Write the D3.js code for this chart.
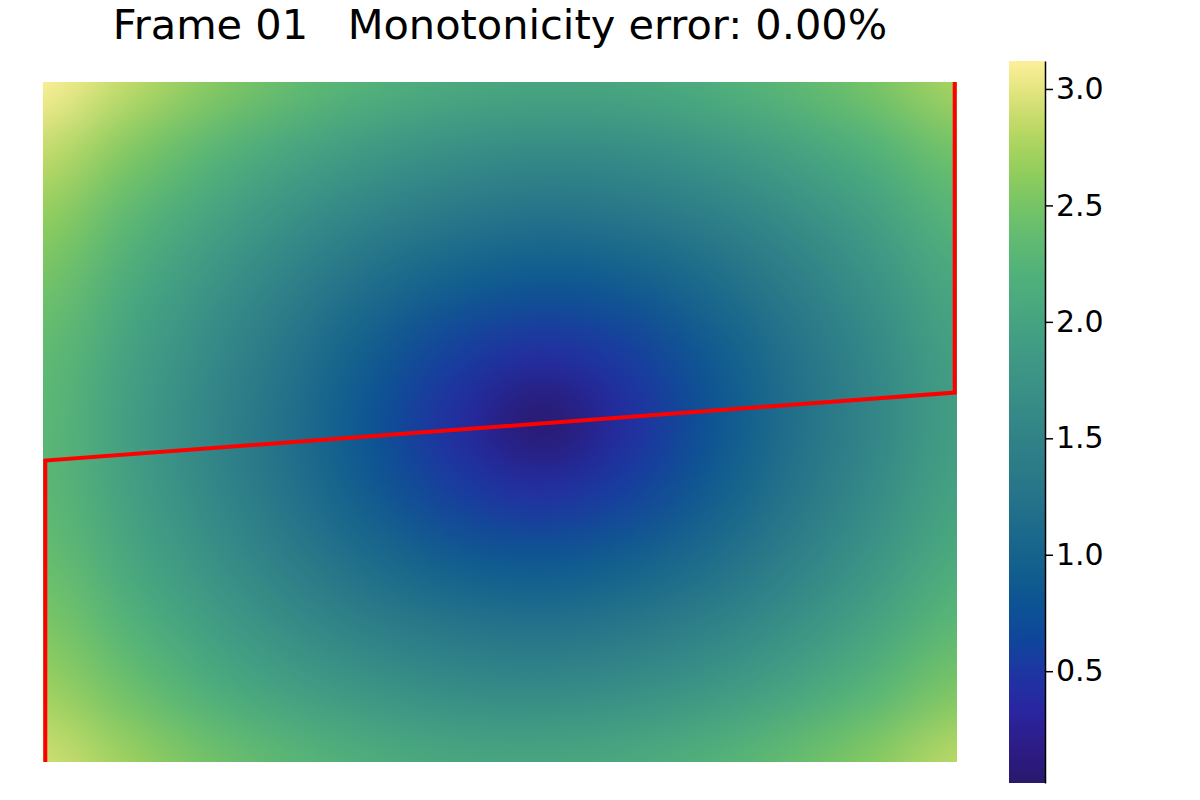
<!DOCTYPE html>
<html>
<head>
<meta charset="utf-8">
<script src="https://cdn.jsdelivr.net/npm/d3@7"></script>
<style>
	body { margin: 0; background: white; }
	svg { font-family: "DejaVu Sans", sans-serif; }
</style>
</head>
<body>
<div id="plot"></div>
<script>
const titleText = "Frame 01   Monotonicity error: 0.00%";

// cost values on a 12 x 11 grid of nodes,
// rows from top to bottom, columns from left to right, outer nodes on the frame edges
const cost = [
	[3.12, 2.86, 2.60, 2.38, 2.21, 2.09, 2.04, 2.06, 2.16, 2.31, 2.51, 2.76],
	[2.88, 2.57, 2.29, 2.03, 1.83, 1.69, 1.63, 1.66, 1.78, 1.97, 2.20, 2.48],
	[2.65, 2.32, 2.00, 1.71, 1.47, 1.30, 1.22, 1.27, 1.42, 1.65, 1.93, 2.25],
	[2.48, 2.12, 1.77, 1.44, 1.14, 0.92, 0.82, 0.89, 1.10, 1.39, 1.72, 2.07],
	[2.36, 1.98, 1.61, 1.24, 0.89, 0.57, 0.41, 0.55, 0.86, 1.21, 1.58, 1.95],
	[2.31, 1.93, 1.54, 1.16, 0.77, 0.39, 0.02, 0.39, 0.77, 1.16, 1.54, 1.93],
	[2.32, 1.95, 1.58, 1.21, 0.86, 0.55, 0.41, 0.57, 0.89, 1.24, 1.61, 1.98],
	[2.40, 2.06, 1.72, 1.39, 1.10, 0.89, 0.82, 0.92, 1.14, 1.44, 1.77, 2.12],
	[2.54, 2.23, 1.92, 1.65, 1.42, 1.27, 1.22, 1.30, 1.47, 1.71, 2.00, 2.31],
	[2.72, 2.45, 2.18, 1.96, 1.78, 1.66, 1.63, 1.69, 1.83, 2.03, 2.28, 2.55],
	[2.92, 2.70, 2.47, 2.29, 2.15, 2.06, 2.04, 2.09, 2.21, 2.38, 2.59, 2.84],
];

// grid size of the matrix the path walks through
const nCols = 200;
const nRows = 300;

// warping path (column, row), rows counted from the bottom
const pathCols = [0.5, 0.5, 199.5, 199.5];
const pathRows = [0, 133, 163, 300];

const colorbarTicks = [0.5, 1.0, 1.5, 2.0, 2.5, 3.0];

// haline-like colour map
const cmapStops = [
	[0.00, "rgb(42,24,108)"],
	[0.05, "rgb(45,28,135)"],
	[0.10, "rgb(42,37,160)"],
	[0.15, "rgb(30,52,162)"],
	[0.20, "rgb(15,70,155)"],
	[0.25, "rgb(12,84,147)"],
	[0.30, "rgb(18,96,141)"],
	[0.35, "rgb(28,106,139)"],
	[0.40, "rgb(38,116,137)"],
	[0.50, "rgb(52,135,135)"],
	[0.60, "rgb(64,155,132)"],
	[0.70, "rgb(80,176,123)"],
	[0.75, "rgb(95,186,114)"],
	[0.80, "rgb(118,196,102)"],
	[0.85, "rgb(148,206,92)"],
	[0.90, "rgb(182,215,98)"],
	[0.95, "rgb(220,226,122)"],
	[1.00, "rgb(253,239,154)"],
];

const W = 1200, H = 800;
const plot = { left: 43, right: 957, top: 82, bottom: 762 };
const bar = { left: 1009, right: 1045, top: 61, bottom: 783 };

const svg = d3
	.select("#plot")
	.append("svg")
	.attr("width", W)
	.attr("height", H);

const all = cost.flat();
const vmin = d3.min(all), vmax = d3.max(all);

const cmap = d3
	.scaleLinear()
	.domain(cmapStops.map((d) => d[0]))
	.range(cmapStops.map((d) => d[1]))
	.interpolate(d3.interpolateRgb)
	.clamp(true);
const color = (v) => cmap((v - vmin) / (vmax - vmin));

const x = d3.scaleLinear().domain([0, nCols]).range([plot.left, plot.right]);
const y = d3.scaleLinear().domain([0, nRows]).range([plot.bottom, plot.top]);

// heatmap: one pixel per node, then scaled up smoothly to the frame
const nx = cost[0].length, ny = cost.length;
const small = document.createElement("canvas");
small.width = nx;
small.height = ny;
const sctx = small.getContext("2d");
const img = sctx.createImageData(nx, ny);
cost.forEach((row, j) => {
	row.forEach((v, i) => {
		const c = d3.rgb(color(v));
		const k = (j * nx + i) * 4;
		img.data[k] = c.r;
		img.data[k + 1] = c.g;
		img.data[k + 2] = c.b;
		img.data[k + 3] = 255;
	});
});
sctx.putImageData(img, 0, 0);

const pw = plot.right - plot.left, ph = plot.bottom - plot.top;
const big = document.createElement("canvas");
big.width = pw;
big.height = ph;
const bctx = big.getContext("2d");
bctx.imageSmoothingEnabled = true;
bctx.imageSmoothingQuality = "high";
const cw = pw / (nx - 1), ch = ph / (ny - 1);
bctx.drawImage(small, -cw / 2, -ch / 2, nx * cw, ny * ch);

svg
	.append("image")
	.attr("x", plot.left)
	.attr("y", plot.top)
	.attr("width", pw)
	.attr("height", ph)
	.attr("preserveAspectRatio", "none")
	.attr("href", big.toDataURL());

// warping path
const line = d3
	.line()
	.x((d) => x(d[0]))
	.y((d) => y(d[1]));

svg
	.append("path")
	.datum(pathCols.map((c, i) => [c, pathRows[i]]))
	.attr("d", line)
	.attr("fill", "none")
	.attr("stroke", "#ff0000")
	.attr("stroke-width", 4)
	.attr("stroke-linejoin", "miter");

// title
svg
	.append("text")
	.attr("x", (plot.left + plot.right) / 2)
	.attr("y", 39)
	.attr("text-anchor", "middle")
	.style("font-size", "41.5px")
	.style("white-space", "pre")
	.text(titleText);

// colorbar
const cb = d3.scaleLinear().domain([vmin, vmax]).range([bar.bottom, bar.top]);

const defs = svg.append("defs");
const grad = defs
	.append("linearGradient")
	.attr("id", "cbar-grad")
	.attr("x1", 0)
	.attr("y1", 1)
	.attr("x2", 0)
	.attr("y2", 0);

grad
	.selectAll("stop")
	.data(d3.range(0, 1.0001, 0.02))
	.enter()
	.append("stop")
	.attr("offset", (d) => d * 100 + "%")
	.attr("stop-color", (d) => cmap(d));

svg
	.append("rect")
	.attr("x", bar.left)
	.attr("y", bar.top)
	.attr("width", bar.right - bar.left)
	.attr("height", bar.bottom - bar.top)
	.style("fill", "url(#cbar-grad)");

const cbAxis = svg
	.append("g")
	.attr("transform", `translate(${bar.right},0)`)
	.call(
		d3
			.axisRight(cb)
			.tickValues(colorbarTicks)
			.tickFormat(d3.format(".1f"))
			.tickSize(8)
			.tickSizeOuter(0)
			.tickPadding(3)
	);

cbAxis.select(".domain").attr("stroke", "#000").attr("stroke-width", 1.5);
cbAxis.selectAll(".tick line").attr("stroke", "#000").attr("stroke-width", 1.5);
cbAxis
	.selectAll(".tick text")
	.attr("fill", "#000")
	.style("font-family", "DejaVu Sans, sans-serif")
	.style("font-size", "30px");
</script>
</body>
</html>
